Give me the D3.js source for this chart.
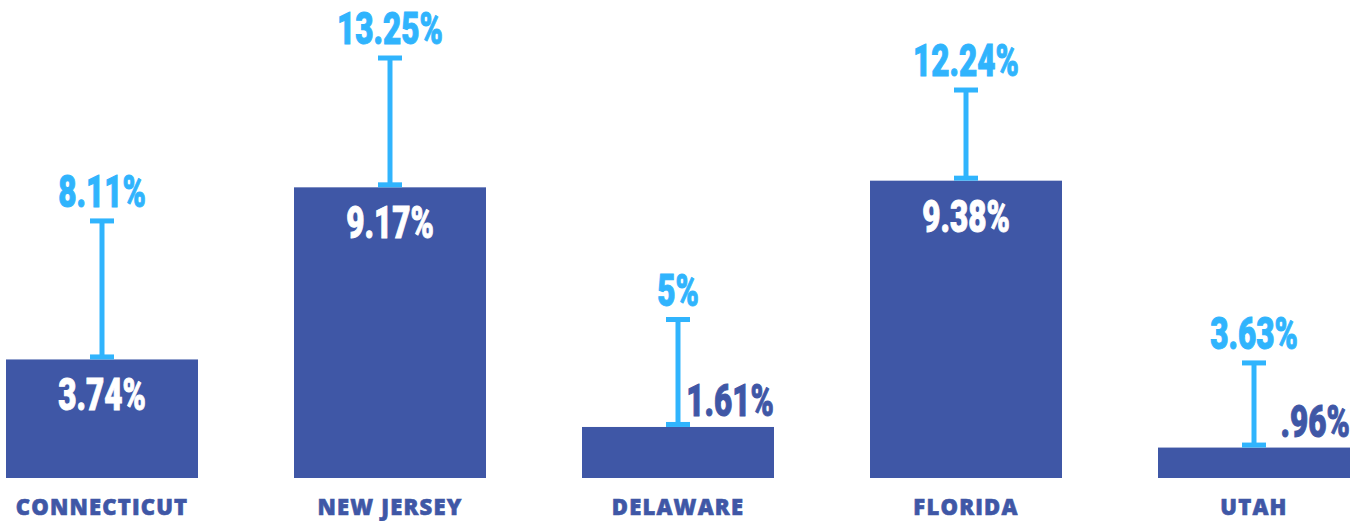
<!DOCTYPE html>
<html>
<head>
<meta charset="utf-8">
<script src="https://cdn.jsdelivr.net/npm/d3@7"></script>
<style>
  html, body { margin: 0; padding: 0; background: #ffffff; }
  svg { display: block; }
</style>
</head>
<body>
<svg id="chart" width="1365" height="521"></svg>
<script>
const categories = ["CONNECTICUT", "NEW JERSEY", "DELAWARE", "FLORIDA", "UTAH"];
const baseValues = [3.74, 9.17, 1.61, 9.38, 0.96];
const highValues = [8.11, 13.25, 5, 12.24, 3.63];
const baseLabels = ["3.74%", "9.17%", "1.61%", "9.38%", ".96%"];
const highLabels = ["8.11%", "13.25%", "5%", "12.24%", "3.63%"];

const W = 1365, H = 521;
const DARK = "#3f57a6", LIGHT = "#30b4fd";
const svg = d3.select("#chart");

const x = d3.scaleBand().domain(categories).range([6, 1350]).paddingInner(1/3).paddingOuter(0);
const y = d3.scaleLinear().domain([0, 15.08]).range([478, 0]);

const data = categories.map((c, i) => ({
  cat: c, v: baseValues[i], hi: highValues[i], vl: baseLabels[i], hl: highLabels[i]
}));

const NUMFONT = "Roboto, 'Liberation Sans', sans-serif";
const SX = 0.7;

// bars
svg.selectAll("rect.bar").data(data).join("rect")
  .attr("class", "bar")
  .attr("x", d => x(d.cat))
  .attr("y", d => y(d.v))
  .attr("width", x.bandwidth())
  .attr("height", d => y(0) - y(d.v))
  .attr("fill", DARK);

// error lines
const cx = d => x(d.cat) + x.bandwidth() / 2;
svg.selectAll("line.err").data(data).join("line")
  .attr("x1", cx).attr("x2", cx)
  .attr("y1", d => y(d.hi)).attr("y2", d => y(d.v) - 2)
  .attr("stroke", LIGHT).attr("stroke-width", 5);
svg.selectAll("rect.capTop").data(data).join("rect")
  .attr("x", d => cx(d) - 12).attr("y", d => y(d.hi) - 2.5)
  .attr("width", 24).attr("height", 5).attr("fill", LIGHT);
svg.selectAll("rect.capBot").data(data).join("rect")
  .attr("x", d => cx(d) - 12).attr("y", d => y(d.v) - 5)
  .attr("width", 24).attr("height", 5).attr("fill", LIGHT);

// top labels
svg.selectAll("g.hl").data(data).join("g")
  .attr("transform", d => `translate(${cx(d)},${y(d.hi) - 14}) scale(${SX},1)`)
  .append("text")
  .attr("text-anchor", "middle")
  .attr("font-family", NUMFONT).attr("font-weight", 900).attr("font-size", 45)
  .attr("fill", LIGHT).attr("stroke", LIGHT).attr("stroke-width", 1)
  .text(d => d.hl);

// value labels
const inside = d => (y(0) - y(d.v)) > 70;
svg.selectAll("g.vl").data(data).join("g")
  .attr("transform", d => inside(d)
    ? `translate(${cx(d)},${y(d.v) + 51}) scale(${SX},1)`
    : `translate(${x(d.cat) + x.bandwidth()},${y(d.v) - 11}) scale(${SX},1)`)
  .append("text")
  .attr("text-anchor", d => inside(d) ? "middle" : "end")
  .attr("font-family", NUMFONT).attr("font-weight", 900).attr("font-size", 45)
  .attr("fill", d => inside(d) ? "#ffffff" : DARK)
  .attr("stroke", d => inside(d) ? "#ffffff" : DARK).attr("stroke-width", 1)
  .text(d => d.vl);

// category axis labels
svg.selectAll("text.cat").data(data).join("text")
  .attr("class", "cat")
  .attr("x", cx).attr("y", 515)
  .attr("text-anchor", "middle")
  .attr("font-family", "'Open Sans', sans-serif").attr("font-weight", 800)
  .attr("font-size", 22).attr("letter-spacing", 1.2)
  .attr("fill", DARK).attr("stroke", DARK).attr("stroke-width", 0.6)
  .text(d => d.cat);
</script>
</body>
</html>
